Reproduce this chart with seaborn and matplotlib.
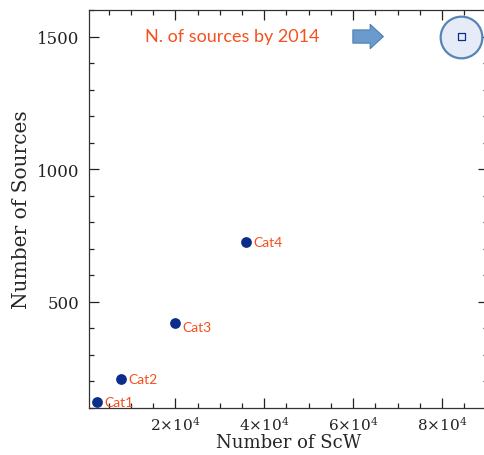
import matplotlib.pyplot as plt
import pandas as pd
import seaborn as sns
from matplotlib.ticker import MultipleLocator, FixedLocator

# catalogue values
cats = ["Cat1", "Cat2", "Cat3", "Cat4"]
n_scw = [2400, 7900, 20000, 36000]
n_src = [123, 209, 421, 726]
# sources expected by 2014
scw_2014 = [84300]
src_2014 = [1500]

xticks = [20000, 40000, 60000, 80000]
xticklabels = [r"$2{\times}10^4$", r"$4{\times}10^4$", r"$6{\times}10^4$", r"$8{\times}10^4$"]

df = pd.DataFrame({"cat": cats, "scw": n_scw, "src": n_src})

sns.set_theme(style="ticks")
plt.rcParams["font.family"] = ["DejaVu Serif"]
plt.rcParams["mathtext.fontset"] = "dejavuserif"

fig = plt.figure(figsize=(4.84, 4.56), dpi=100)
ax = fig.add_axes([89 / 484, 47 / 456, 399 / 484, 398 / 456])

navy = "#0b2d8c"
orange = "#f5501e"

sns.scatterplot(data=df, x="scw", y="src", ax=ax, color=navy, s=60,
                edgecolor=navy, linewidth=0, zorder=3)

# highlight circle + open square for 2014
ax.scatter(scw_2014, src_2014, s=900, facecolor="#e6ecf7", edgecolor="#5683b8",
           linewidth=1.6, zorder=2, clip_on=False)
ax.scatter(scw_2014, src_2014, s=30, marker="s", facecolor="none",
           edgecolor=navy, linewidth=0.9, zorder=4, clip_on=False)

for c, x, y in zip(cats, n_scw, n_src):
    dy = -3 if c == "Cat3" else 0
    ax.annotate(c, (x, y), xytext=(5, dy), textcoords="offset points",
                color=orange, fontsize=10, family="Lato", va="center", ha="left")

ax.text(0.14, 0.935, "N. of sources by 2014", transform=ax.transAxes,
        color=orange, fontsize=13, family="Lato", va="center", ha="left")

ax.annotate("", xy=(67400, 1500), xytext=(59300, 1500),
            arrowprops=dict(arrowstyle="simple,head_length=0.95,head_width=1.75,tail_width=0.95",
                            mutation_scale=10, fc="#6b9bcc", ec="#4f7fb0", lw=0.8))

ax.set_xlim(600, 90300)
ax.set_ylim(100, 1600)
ax.xaxis.set_major_locator(FixedLocator(xticks))
ax.set_xticklabels(xticklabels)
ax.xaxis.set_minor_locator(MultipleLocator(5000))
ax.yaxis.set_major_locator(MultipleLocator(500))
ax.yaxis.set_minor_locator(MultipleLocator(100))
ax.tick_params(which="both", direction="in", top=True, right=True, colors="#222222",
               width=0.9)
ax.tick_params(axis="y", labelsize=12, pad=7)
ax.tick_params(axis="x", labelsize=11, pad=5)
ax.tick_params(which="major", length=7.5)
ax.tick_params(which="minor", length=3.8)
for sp in ax.spines.values():
    sp.set_color("#333333")
    sp.set_linewidth(0.9)

ax.set_xlabel("Number of ScW", fontsize=13, labelpad=0)
ax.set_ylabel("Number of Sources", fontsize=14.5, labelpad=4)

fig.savefig("out.png", dpi=100)
